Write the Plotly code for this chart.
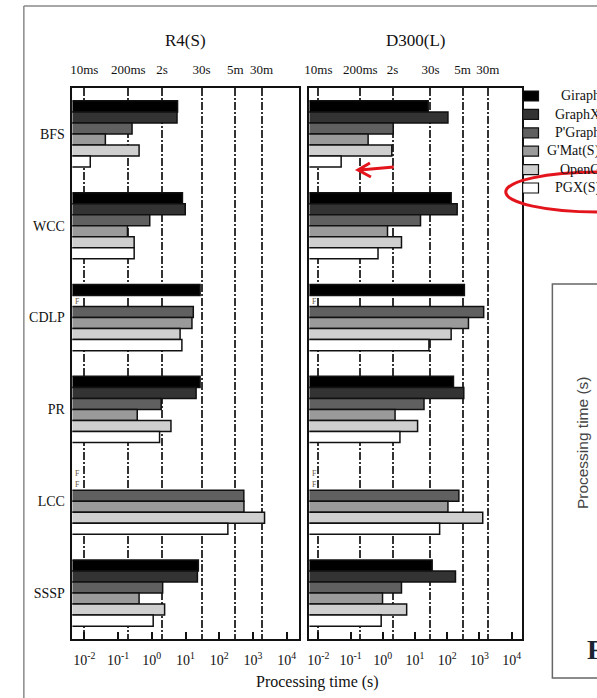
import plotly.graph_objects as go

# ---------------- data ----------------
algorithms = ["BFS", "WCC", "CDLP", "PR", "LCC", "SSSP"]
platforms = ["Giraph", "GraphX", "PowerGraph", "GraphMat", "OpenG", "PGX"]
legend_labels = ["Giraph", "GraphX", "P'Graph", "G'Mat(S)", "OpenG", "PGX(S)"]
panel_titles = ["R4(S)", "D300(L)"]

# processing time in seconds, None = failed (F)
giraph_r4 = [5.8, 8.1, 27, 27, None, 24]
graphx_r4 = [5.6, 9.8, None, 20.6, None, 22.5]
powergraph_r4 = [0.26, 0.87, 17, 1.9, 535, 2.1]
graphmat_r4 = [0.042, 0.19, 15.5, 0.37, 540, 0.42]
openg_r4 = [0.42, 0.30, 6.9, 3.7, 2200, 2.4]
pgx_r4 = [0.015, 0.30, 7.8, 1.7, 180, 1.1]

giraph_d300 = [25.6, 132, 340, 156, None, 34]
graphx_d300 = [105, 203, None, 326, None, 180]
powergraph_d300 = [2.1, 14.8, 1350, 19, 229, 3.8]
graphmat_d300 = [0.35, 1.4, 455, 2.4, 105, 0.98]
openg_d300 = [1.9, 3.8, 132, 12, 1260, 5.5]
pgx_d300 = [0.051, 0.71, 27, 3.4, 58, 0.89]

decade_ticks = [1e-2, 1e-1, 1e0, 1e1, 1e2, 1e3, 1e4]
decade_labels = ["10<sup>-2</sup>", "10<sup>-1</sup>", "10<sup>0</sup>", "10<sup>1</sup>",
                 "10<sup>2</sup>", "10<sup>3</sup>", "10<sup>4</sup>"]
time_ticks = [0.01, 0.2, 2, 30, 300, 1800]
time_labels = ["10ms", "200ms", "2s", "30s", "5m", "30m"]

# ---------------- style ----------------
W, H = 597, 698
colors = ["#000000", "#333333", "#606060", "#9a9a9a", "#cfcfcf", "#ffffff"]
SERIF = "Liberation Serif, Times New Roman, serif"
BARGAP = 0.28


def px(x):
    return x / W


def py(y):
    return 1 - y / H


r4 = [giraph_r4, graphx_r4, powergraph_r4, graphmat_r4, openg_r4, pgx_r4]
d300 = [giraph_d300, graphx_d300, powergraph_d300, graphmat_d300, openg_d300, pgx_d300]

fig = go.Figure()
for p_i, (name, col) in enumerate(zip(platforms, colors)):
    for vals, xa, ya in [(r4[p_i], "x", "y"), (d300[p_i], "x2", "y2")]:
        fig.add_trace(go.Bar(
            y=algorithms, x=vals, orientation="h", name=name,
            marker=dict(color=col, line=dict(color="#111111", width=1.5)),
            xaxis=xa, yaxis=ya, showlegend=False,
        ))

# invisible helper traces so the top (time) axes are drawn
for xa, ya in [("x3", "y"), ("x4", "y2")]:
    fig.add_trace(go.Scatter(
        x=time_ticks, y=[algorithms[0]] * len(time_ticks), mode="markers",
        marker=dict(opacity=0, size=1), xaxis=xa, yaxis=ya,
        hoverinfo="skip", showlegend=False,
    ))

annotations = []
shapes = []

# failed markers "F"
n = len(platforms)
bw = (1 - BARGAP) / n
for vals_set, xd in [(r4, "x domain"), (d300, "x2 domain")]:
    yref = "y" if xd == "x domain" else "y2"
    for p_i, vals in enumerate(vals_set):
        for a_i, v in enumerate(vals):
            if v is None:
                annotations.append(dict(
                    x=0.004, xref=xd, xanchor="left", yanchor="middle",
                    y=a_i - (1 - BARGAP) / 2 + bw * (p_i + 0.5), yref=yref,
                    text="F", showarrow=False,
                    font=dict(family=SERIF, size=8, color="#6a5a40"),
                ))

common_bottom = dict(
    type="log", tickvals=decade_ticks, ticktext=decade_labels,
    ticks="inside", ticklen=7, tickwidth=1.5, tickcolor="#111",
    showline=True, linecolor="#111", linewidth=1.5, mirror=True,
    showgrid=False, zeroline=False, ticklabelstandoff=7,
    tickfont=dict(family=SERIF, size=14, color="#111"),
)
common_top = dict(
    type="log", side="top", tickvals=time_ticks, ticktext=time_labels,
    ticks="", showline=False, showgrid=True, gridcolor="#333333",
    gridwidth=1.5, griddash="8px,2px,2px,2px", zeroline=False,
    ticklabelstandoff=10,
    tickfont=dict(family=SERIF, size=13, color="#111"),
)
common_y = dict(
    type="category", categoryarray=algorithms, categoryorder="array",
    range=[5.5, -0.5],
    showline=True, linecolor="#111", linewidth=1.5, mirror=True,
    ticks="", showgrid=False, zeroline=False,
    domain=[py(639), py(88)],
)

rangeL = [-2.353, 4.35]
rangeR = [-2.277, 4.308]

fig.update_layout(
    width=W, height=H,
    margin=dict(l=0, r=0, t=0, b=0),
    paper_bgcolor="white", plot_bgcolor="white",
    barmode="group", bargap=BARGAP, bargroupgap=0,
    showlegend=False,
    font=dict(family=SERIF, color="#111"),
    xaxis=dict(domain=[px(68), px(296)], range=rangeL, anchor="y", **common_bottom),
    xaxis2=dict(domain=[px(307), px(521)], range=rangeR, anchor="y2", **common_bottom),
    xaxis3=dict(overlaying="x", anchor="y", range=rangeL, **common_top),
    xaxis4=dict(overlaying="x2", anchor="y2", range=rangeR, **common_top),
    yaxis=dict(anchor="x", showticklabels=True, ticklabelstandoff=3,
               tickfont=dict(family=SERIF, size=14, color="#111"), **common_y),
    yaxis2=dict(anchor="x2", showticklabels=False, **common_y),
)


def note(x, y, text, size, **kw):
    d = dict(x=px(x), y=py(y), xref="paper", yref="paper", text=text,
             showarrow=False, yanchor="middle", xanchor="center",
             font=dict(family=kw.pop("family", SERIF), size=size,
                       color=kw.pop("color", "#111")))
    d.update(kw)
    annotations.append(d)


# panel titles
for title, cx in zip(panel_titles, [182, 414]):
    note(cx, 41, title, 17)

# axis title
note(315, 682, "Processing time (s)", 16)

# legend
for i, (lab, col) in enumerate(zip(legend_labels, colors)):
    cy = 96 + i * 18.4
    shapes.append(dict(type="rect", xref="paper", yref="paper",
                       x0=px(522), x1=px(538), y0=py(cy - 5), y1=py(cy + 5),
                       fillcolor=col, line=dict(color="#111", width=1.2)))
    note(602, cy, lab, 14, xanchor="right")

# outer frame of screenshot
shapes.append(dict(type="line", xref="paper", yref="paper",
                   x0=px(19), x1=px(19), y0=py(6), y1=py(698),
                   line=dict(color="#8a8a8a", width=1.5)))
shapes.append(dict(type="line", xref="paper", yref="paper",
                   x0=px(19), x1=px(600), y0=py(6), y1=py(6),
                   line=dict(color="#8a8a8a", width=1.5)))

# neighbouring figure box (cropped)
shapes.append(dict(type="path", xref="paper", yref="paper",
                   path=f"M {px(600)},{py(284)} L {px(552)},{py(284)} L {px(552)},{py(678)} L {px(600)},{py(678)}",
                   line=dict(color="#666", width=1.5)))
note(583, 443, "Processing time (s)", 15.5, textangle=-90,
     family="Liberation Sans, Arial, sans-serif", color="#444")
note(585, 649, "<b>F</b>", 28, xanchor="left", color="#1a2433")

# red highlight marks
shapes.append(dict(type="circle", xref="paper", yref="paper",
                   x0=px(505), x1=px(690), y0=py(172), y1=py(212),
                   line=dict(color="#e3141b", width=3)))
shapes.append(dict(type="path", xref="paper", yref="paper",
                   path=(f"M {px(392)},{py(167)} L {px(358)},{py(170)} "
                         f"M {px(368)},{py(163)} L {px(356)},{py(170)} L {px(369)},{py(177)}"),
                   line=dict(color="#e3141b", width=3)))

fig.update_layout(annotations=annotations, shapes=shapes)

fig.write_html(
    "out.html",
    config={"displayModeBar": False},
    post_script="document.body.style.margin='0';document.body.style.overflow='hidden';",
)
